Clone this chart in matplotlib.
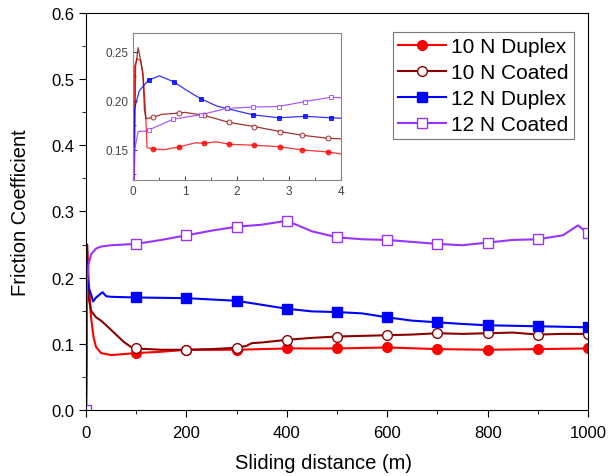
import numpy as np
import matplotlib.pyplot as plt
from matplotlib.ticker import MultipleLocator

plt.rcParams['font.family'] = ['Liberation Sans', 'DejaVu Sans']

labels = ['10 N Duplex', '10 N Coated', '12 N Duplex', '12 N Coated']
colors = ['#FF0000', '#8B0000', '#0000FF', '#9933FF']
markers = ['o', 'o', 's', 's']
filled = [True, False, True, False]

# main chart, sliding distance (m) vs friction coefficient
d10_x = [0, 2, 5, 10, 15, 20, 30, 50, 100, 150, 200, 300, 400, 500, 600, 700, 800, 900, 1000]
d10_y = [0.0, 0.25, 0.20, 0.14, 0.11, 0.095, 0.086, 0.083, 0.086, 0.088, 0.091, 0.091, 0.093,
         0.093, 0.0945, 0.092, 0.091, 0.092, 0.093]
c10_x = [0, 2, 5, 10, 20, 30, 50, 75, 90, 100, 150, 200, 250, 300, 320, 330, 350, 400, 450,
         500, 550, 600, 650, 700, 750, 800, 850, 900, 950, 1000]
c10_y = [0.0, 0.25, 0.17, 0.15, 0.14, 0.135, 0.121, 0.103, 0.095, 0.093, 0.091, 0.091, 0.092,
         0.094, 0.097, 0.101, 0.102, 0.106, 0.109, 0.111, 0.112, 0.113, 0.114, 0.116, 0.115,
         0.116, 0.117, 0.114, 0.115, 0.115]
d12_x = [0, 2, 5, 10, 14, 20, 33, 40, 50, 100, 200, 300, 350, 400, 450, 500, 550, 600, 650,
         700, 750, 800, 900, 1000]
d12_y = [0.0, 0.20, 0.185, 0.175, 0.164, 0.17, 0.178, 0.172, 0.171, 0.170, 0.169, 0.165, 0.159,
         0.153, 0.149, 0.148, 0.146, 0.140, 0.135, 0.1325, 0.130, 0.128, 0.1265, 0.125]
c12_x = [0, 2, 5, 10, 20, 30, 50, 100, 150, 200, 250, 300, 350, 400, 450, 500, 550, 600, 650,
         700, 750, 800, 850, 900, 950, 980, 1000]
c12_y = [0.0, 0.19, 0.22, 0.235, 0.244, 0.247, 0.249, 0.251, 0.257, 0.264, 0.271, 0.277, 0.280,
         0.286, 0.270, 0.261, 0.258, 0.257, 0.254, 0.251, 0.249, 0.253, 0.257, 0.258, 0.264,
         0.279, 0.267]
main_marks = [[100, 200, 300, 400, 500, 600, 700, 800, 900, 1000]] * 3 + \
             [[0, 100, 200, 300, 400, 500, 600, 700, 800, 900, 1000]]

# inset, first 4 m
id10_x = [0, 0.03, 0.08, 0.15, 0.2, 0.24, 0.27, 0.386, 0.6, 0.88, 1.2, 1.36, 1.6, 1.85, 2.33,
          2.82, 3.25, 3.75, 4.0]
id10_y = [0.0, 0.235, 0.243, 0.24, 0.222, 0.19, 0.152, 0.1507, 0.150, 0.1527, 0.157, 0.1565,
          0.158, 0.1555, 0.1545, 0.153, 0.1497, 0.1476, 0.1456]
ic10_x = [0, 0.05, 0.1, 0.15, 0.19, 0.22, 0.25, 0.39, 0.55, 0.88, 1.0, 1.36, 1.6, 1.85, 2.33,
          2.82, 3.25, 3.75, 4.0]
ic10_y = [0.0, 0.235, 0.254, 0.24, 0.229, 0.19, 0.1815, 0.183, 0.186, 0.1873, 0.188, 0.185,
          0.1815, 0.1777, 0.1736, 0.1685, 0.1647, 0.1616, 0.161]
id12_x = [0, 0.03, 0.12, 0.3, 0.51, 0.79, 1.03, 1.3, 1.61, 1.8, 2.3, 2.8, 3.3, 3.8, 4.0]
id12_y = [0.0, 0.192, 0.21, 0.221, 0.2253, 0.219, 0.2106, 0.202, 0.1945, 0.192, 0.1856, 0.1825,
          0.184, 0.1825, 0.182]
ic12_x = [0, 0.03, 0.1, 0.26, 0.3, 0.77, 1.3, 1.8, 2.31, 2.8, 3.3, 3.8, 4.0]
ic12_y = [0.0, 0.15, 0.1685, 0.169, 0.170, 0.181, 0.1856, 0.192, 0.1935, 0.194, 0.199, 0.2034,
          0.203]
inset_marks = [[0.386, 0.88, 1.36, 1.85, 2.33, 2.82, 3.25, 3.75],
               [0.39, 0.88, 1.36, 1.85, 2.33, 2.82, 3.25, 3.75],
               [0.3, 0.79, 1.3, 1.8, 2.3, 2.8, 3.3, 3.8],
               [0.3, 0.77, 1.3, 1.8, 2.31, 2.8, 3.3, 3.8]]

main_data = [(d10_x, d10_y), (c10_x, c10_y), (d12_x, d12_y), (c12_x, c12_y)]
inset_data = [(id10_x, id10_y), (ic10_x, ic10_y), (id12_x, id12_y), (ic12_x, ic12_y)]

fig = plt.figure(figsize=(6.11, 4.77), dpi=100)
ax = fig.add_axes([0.1408, 0.1384, 0.8216, 0.8323])

for (x, y), lab, c, m, f, mk in zip(main_data, labels, colors, markers, filled, main_marks):
    ax.plot(x, y, color=c, lw=1.5, marker=m, ms=7, markevery=list(np.isin(x, mk)),
            mfc=c if f else 'white', mec=c, mew=1.0, label=lab)

ax.set_xlim(0, 1000)
ax.set_ylim(0, 0.6)
ax.xaxis.set_major_locator(MultipleLocator(200))
ax.xaxis.set_minor_locator(MultipleLocator(100))
ax.yaxis.set_major_locator(MultipleLocator(0.1))
ax.yaxis.set_minor_locator(MultipleLocator(0.05))
ax.yaxis.set_major_formatter(plt.FormatStrFormatter('%.1f'))
ax.tick_params(which='both', direction='out', labelsize=12, colors='black')
ax.tick_params(axis='x', which='major', pad=5.5)
ax.tick_params(which='major', length=5)
ax.tick_params(which='minor', length=3)
ax.set_xlabel('Sliding distance (m)', fontsize=14.5)
ax.xaxis.set_label_coords(0.474, -0.108)
ax.set_ylabel('Friction Coefficient', fontsize=14.5, labelpad=15)

leg = ax.legend(loc='upper left', bbox_to_anchor=(0.6116, 0.952), fontsize=15,
                frameon=True, fancybox=False, edgecolor='#555555', handlelength=2.3,
                borderpad=0.25, labelspacing=0.33, handletextpad=0.25, borderaxespad=0)
leg.get_frame().set_linewidth(0.8)

ins = fig.add_axes([0.2177, 0.6205, 0.3404, 0.3082])
for (x, y), c, m, f, mk in zip(inset_data, colors, markers, filled, inset_marks):
    ins.plot(x, y, color=c, lw=0.9, alpha=0.8, marker=m, ms=3.5,
             markevery=list(np.isin(x, mk)), mfc=c if f else 'white', mec=c, mew=0.7)
ins.set_xlim(0, 4)
ins.set_ylim(0.119, 0.269)
ins.xaxis.set_major_locator(MultipleLocator(1))
ins.xaxis.set_minor_locator(MultipleLocator(0.5))
ins.yaxis.set_major_locator(MultipleLocator(0.05))
ins.yaxis.set_minor_locator(MultipleLocator(0.025))
ins.yaxis.set_major_formatter(plt.FormatStrFormatter('%.2f'))
ins.tick_params(which='both', direction='in', labelsize=8.5, colors='#444444')
ins.tick_params(which='major', length=3)
ins.tick_params(which='minor', length=2)
for s in ins.spines.values():
    s.set_color('#888888')

fig.savefig('out.png', dpi=100)
